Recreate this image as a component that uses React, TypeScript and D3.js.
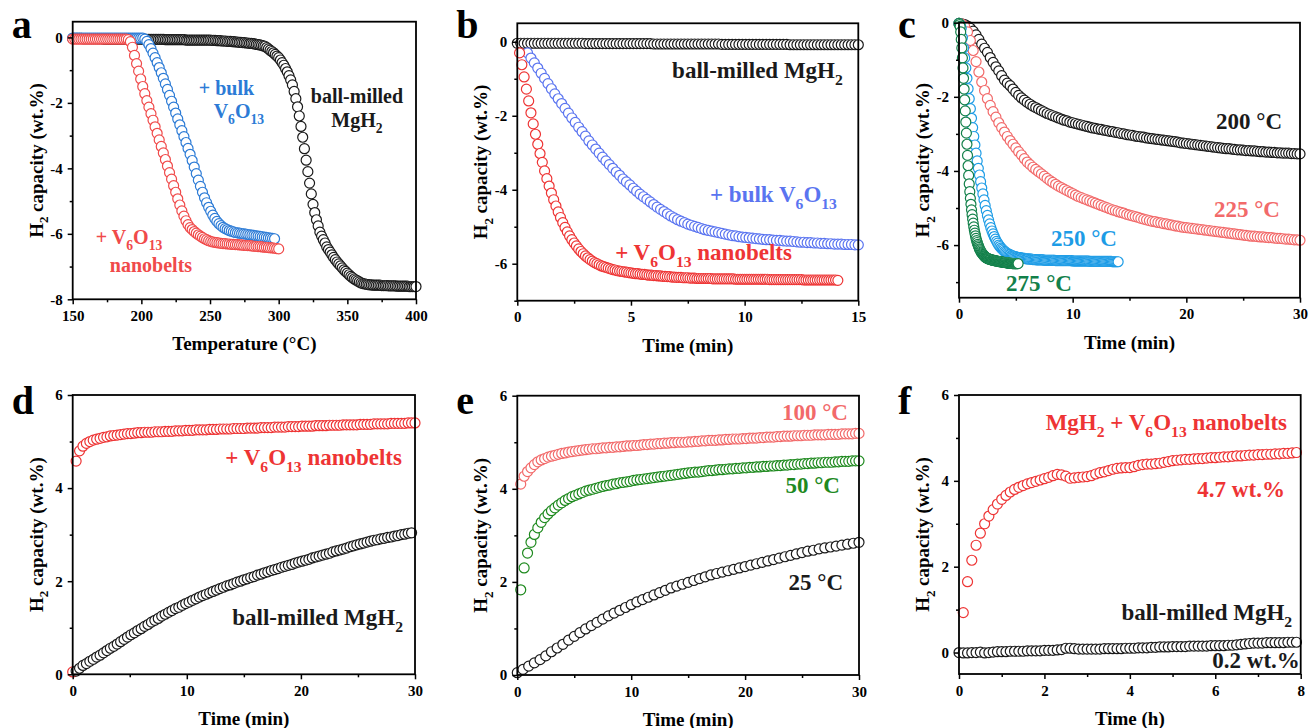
import React, { useEffect, useRef } from 'react';
import * as d3 from 'd3';

const FONT = '"Liberation Serif", "Times New Roman", serif';

// ---------- panel a : temperature programmed desorption (x = 150 + i * step) ----------
const aMgH2 = [
  -0.03, -0.03, -0.03, -0.03, -0.03, -0.03, -0.04, -0.04, -0.04, -0.04, -0.04, -0.04, -0.04, -0.04, -0.04, -0.04,
  -0.04, -0.04, -0.05, -0.05, -0.05, -0.05, -0.05, -0.05, -0.05, -0.05, -0.05, -0.05, -0.05, -0.05, -0.05, -0.05,
  -0.05, -0.05, -0.05, -0.05, -0.05, -0.05, -0.05, -0.05, -0.05, -0.05, -0.06, -0.06, -0.06, -0.06, -0.06, -0.06,
  -0.06, -0.06, -0.06, -0.06, -0.06, -0.06, -0.07, -0.07, -0.07, -0.07, -0.07, -0.07, -0.07, -0.07, -0.07, -0.07,
  -0.07, -0.07, -0.08, -0.08, -0.08, -0.08, -0.08, -0.08, -0.08, -0.08, -0.08, -0.08, -0.08, -0.08, -0.08, -0.08,
  -0.08, -0.09, -0.09, -0.09, -0.1, -0.1, -0.1, -0.11, -0.11, -0.11, -0.12, -0.12, -0.12, -0.13, -0.13, -0.14,
  -0.14, -0.15, -0.15, -0.16, -0.16, -0.17, -0.17, -0.18, -0.18, -0.19, -0.2, -0.21, -0.22, -0.23, -0.24, -0.26,
  -0.27, -0.31, -0.35, -0.39, -0.43, -0.47, -0.52, -0.57, -0.62, -0.69, -0.77, -0.85, -0.95, -1.05, -1.17, -1.3,
  -1.45, -1.65, -1.87, -2.12, -2.4, -2.72, -3.05, -3.4, -3.75, -4.1, -4.45, -4.78, -5.1, -5.35, -5.57, -5.76,
  -5.95, -6.07, -6.18, -6.28, -6.4, -6.48, -6.56, -6.64, -6.72, -6.79, -6.86, -6.92, -6.98, -7.04, -7.1, -7.15,
  -7.2, -7.25, -7.3, -7.34, -7.38, -7.41, -7.44, -7.47, -7.5, -7.52, -7.53, -7.54, -7.55, -7.56, -7.56, -7.57,
  -7.57, -7.57, -7.57, -7.57, -7.58, -7.58, -7.58, -7.58, -7.59, -7.59, -7.59, -7.59, -7.59, -7.6, -7.6, -7.6,
  -7.6, -7.6, -7.6, -7.6, -7.61, -7.61, -7.61, -7.61, -7.61,
];
const aBulk = [
  -0.02, -0.02, -0.02, -0.02, -0.02, -0.02, -0.02, -0.02, -0.02, -0.02, -0.02, -0.02, -0.02, -0.02, -0.02, -0.02,
  -0.02, -0.02, -0.02, -0.02, -0.02, -0.02, -0.02, -0.02, -0.02, -0.02, -0.02, -0.02, -0.02, -0.02, -0.02, -0.02,
  -0.02, -0.02, -0.02,
  -0.05, -0.12, -0.22, -0.34, -0.48, -0.62, -0.77, -0.92, -1.08, -1.25, -1.42, -1.59, -1.77, -1.95, -2.13, -2.31,
  -2.49, -2.67, -2.85, -3.03, -3.21, -3.39, -3.57, -3.76, -3.96, -4.16, -4.36, -4.55, -4.73, -4.9, -5.05, -5.19,
  -5.31, -5.43, -5.53, -5.62, -5.69, -5.75, -5.8, -5.84, -5.87, -5.9, -5.92, -5.94, -5.96, -5.97,
  -5.98, -5.99, -6.0, -6.01, -6.02, -6.03, -6.04, -6.05, -6.06, -6.07, -6.08, -6.09, -6.1, -6.11, -6.12, -6.13,
  -6.14, -6.15,
];
const aNano = [
  -0.05, -0.05, -0.05, -0.05, -0.05, -0.05, -0.05, -0.05, -0.05, -0.05, -0.05, -0.05, -0.05, -0.05, -0.05, -0.05,
  -0.05, -0.05, -0.05, -0.05, -0.05, -0.05, -0.05, -0.05, -0.05, -0.05, -0.05, -0.07,
  -0.13, -0.3, -0.55, -0.8, -1.03, -1.27, -1.5, -1.72, -1.93, -2.13, -2.33, -2.53, -2.73, -2.93, -3.13, -3.33,
  -3.53, -3.73, -3.93, -4.13, -4.33, -4.53, -4.73, -4.93, -5.12, -5.3, -5.46, -5.6, -5.72, -5.81,
  -5.87, -5.93, -5.98, -6.03, -6.07, -6.11, -6.15, -6.18, -6.21, -6.23, -6.25, -6.26, -6.27, -6.28,
  -6.29, -6.3, -6.3, -6.31, -6.31, -6.32, -6.32, -6.33, -6.33, -6.34, -6.34, -6.35, -6.35, -6.36, -6.36, -6.37,
  -6.38, -6.38, -6.39, -6.39, -6.4, -6.41, -6.41, -6.42, -6.43, -6.43, -6.44, -6.45, -6.46,
];

// ---------- panel b : isothermal dehydrogenation, 300 °C (min) ----------
const bMgH2 = [
  -0.04, -0.04, -0.04, -0.04, -0.04, -0.04, -0.04, -0.04, -0.04, -0.04, -0.04, -0.04, -0.04, -0.04, -0.04, -0.04,
  -0.04, -0.04, -0.04, -0.04, -0.05, -0.05, -0.05, -0.05, -0.05, -0.05, -0.05, -0.05, -0.05, -0.05, -0.05, -0.05,
  -0.05, -0.05, -0.05, -0.05, -0.05, -0.05, -0.05, -0.05, -0.06, -0.06, -0.06, -0.06, -0.06, -0.06, -0.06, -0.06,
  -0.06, -0.06, -0.06, -0.06, -0.06, -0.06, -0.06, -0.06, -0.06, -0.06, -0.06, -0.06, -0.07, -0.07, -0.07, -0.07,
  -0.07, -0.07, -0.07, -0.07, -0.07, -0.07, -0.07, -0.07, -0.07, -0.07, -0.07, -0.07, -0.07, -0.07, -0.07, -0.07,
  -0.08, -0.08, -0.08, -0.08, -0.08, -0.08, -0.08, -0.08, -0.08, -0.08, -0.08, -0.08, -0.08, -0.08, -0.08, -0.08,
  -0.08, -0.08, -0.08, -0.08, -0.08,
];
const bBulk = [
  -0.3, -0.44, -0.57, -0.71, -0.85, -0.99, -1.13, -1.27, -1.41, -1.54,
  -1.67, -1.8, -1.93, -2.06, -2.18, -2.31, -2.43, -2.55, -2.68, -2.79,
  -2.9, -3.01, -3.12, -3.22, -3.32, -3.42, -3.52, -3.61, -3.71, -3.79,
  -3.87, -3.96, -4.04, -4.12, -4.19, -4.26, -4.33, -4.4, -4.47, -4.53,
  -4.59, -4.65, -4.71, -4.76, -4.81, -4.85, -4.89, -4.93, -4.96, -4.99,
  -5.02, -5.05, -5.08, -5.1, -5.12, -5.14, -5.16, -5.18, -5.2, -5.22,
  -5.24, -5.25, -5.27, -5.28, -5.29, -5.3, -5.31, -5.32, -5.33, -5.34,
  -5.35, -5.35, -5.36, -5.37, -5.37, -5.38, -5.39, -5.39, -5.4, -5.41,
  -5.42, -5.42, -5.43, -5.43, -5.44, -5.44, -5.45, -5.45, -5.46, -5.46,
  -5.47, -5.47, -5.47, -5.48, -5.48, -5.48, -5.49, -5.49,
];
const bNano = [
  -0.3, -0.62, -0.95, -1.28, -1.6, -1.92, -2.22, -2.5, -2.77, -3.02,
  -3.26, -3.49, -3.7, -3.9, -4.09, -4.27, -4.44, -4.6, -4.75, -4.89,
  -5.02, -5.14, -5.25, -5.35, -5.44, -5.52, -5.6, -5.67, -5.73, -5.79,
  -5.84, -5.89, -5.93, -5.97, -6.0, -6.03, -6.06, -6.08, -6.1, -6.12,
  -6.14, -6.16, -6.17, -6.19, -6.2, -6.21, -6.22, -6.23, -6.24, -6.25,
  -6.26, -6.27, -6.27, -6.28, -6.29, -6.29, -6.3, -6.31, -6.31, -6.32,
  -6.32, -6.33, -6.33, -6.34, -6.34, -6.35, -6.35, -6.36, -6.36, -6.37,
  -6.37, -6.37, -6.38, -6.38, -6.38, -6.39, -6.39, -6.39, -6.4, -6.4,
  -6.4, -6.4, -6.4, -6.4, -6.4, -6.41, -6.41, -6.41, -6.41, -6.41,
  -6.41, -6.41, -6.41, -6.41, -6.41, -6.42, -6.42, -6.42, -6.42, -6.42,
  -6.42, -6.42, -6.42, -6.42, -6.42, -6.42, -6.42, -6.42, -6.42, -6.42,
  -6.43, -6.43, -6.43, -6.43, -6.43, -6.43, -6.43, -6.43, -6.43, -6.43,
  -6.43, -6.43, -6.43, -6.43, -6.43, -6.44, -6.44, -6.44, -6.44, -6.44,
  -6.44, -6.44, -6.44, -6.44, -6.44, -6.44, -6.44, -6.44, -6.44, -6.44,
  -6.45,
];

// ---------- panel c : nanobelt sample at four temperatures (min) ----------
const c200 = [
  -0.02, -0.03, -0.05, -0.09, -0.15, -0.23, -0.33, -0.45, -0.58, -0.69, -0.8, -0.94,
  -1.07, -1.19, -1.3, -1.43, -1.55, -1.63, -1.7, -1.79, -1.88, -1.96, -2.03, -2.09,
  -2.15, -2.2, -2.25, -2.29, -2.33, -2.37, -2.41, -2.45, -2.48, -2.51, -2.54, -2.57,
  -2.6, -2.63, -2.65, -2.68, -2.7, -2.72, -2.74, -2.76, -2.78, -2.8, -2.82, -2.84,
  -2.85, -2.87, -2.88, -2.9, -2.91, -2.93, -2.94, -2.96, -2.97, -2.99, -3.0, -3.02,
  -3.03, -3.04, -3.06, -3.07, -3.08, -3.09, -3.11, -3.12, -3.13, -3.14, -3.15, -3.16,
  -3.17, -3.18, -3.19, -3.2, -3.21, -3.22, -3.24, -3.25, -3.26, -3.27, -3.28, -3.29,
  -3.3, -3.31, -3.32, -3.33, -3.34, -3.35, -3.36, -3.37, -3.38, -3.39, -3.4, -3.4,
  -3.41, -3.42, -3.43, -3.43, -3.44, -3.45, -3.45, -3.46, -3.46, -3.47, -3.48, -3.48,
  -3.49, -3.49, -3.5, -3.5, -3.51, -3.51, -3.52, -3.52, -3.52, -3.53, -3.53, -3.54,
  -3.54,
];
const c225 = [
  -0.02, -0.04, -0.1, -0.25, -0.48, -0.75, -1.05, -1.33, -1.6, -1.83, -2.05, -2.23,
  -2.4, -2.55, -2.7, -2.83, -2.95, -3.07, -3.18, -3.28, -3.38, -3.48, -3.57, -3.67,
  -3.76, -3.83, -3.9, -3.96, -4.02, -4.08, -4.14, -4.2, -4.26, -4.31, -4.36, -4.41,
  -4.45, -4.49, -4.53, -4.57, -4.61, -4.65, -4.69, -4.72, -4.75, -4.78, -4.81, -4.84,
  -4.87, -4.9, -4.93, -4.96, -4.99, -5.02, -5.05, -5.07, -5.1, -5.12, -5.14, -5.17,
  -5.19, -5.21, -5.23, -5.25, -5.28, -5.3, -5.32, -5.34, -5.36, -5.37, -5.39, -5.4,
  -5.42, -5.43, -5.45, -5.46, -5.48, -5.49, -5.51, -5.52, -5.53, -5.54, -5.55, -5.56,
  -5.57, -5.58, -5.59, -5.6, -5.61, -5.62, -5.63, -5.64, -5.65, -5.66, -5.67, -5.68,
  -5.69, -5.7, -5.71, -5.72, -5.73, -5.74, -5.75, -5.76, -5.76, -5.77, -5.78, -5.78,
  -5.79, -5.8, -5.8, -5.81, -5.82, -5.82, -5.83, -5.84, -5.84, -5.85, -5.86, -5.86,
  -5.87,
];
const c250 = [
  -0.02, -0.05, -0.15, -0.4, -0.68, -0.95, -1.22, -1.5, -1.78, -2.05,
  -2.32, -2.58, -2.83, -3.07, -3.3, -3.52, -3.73, -3.93, -4.11, -4.29,
  -4.46, -4.62, -4.78, -4.93, -5.07, -5.2, -5.32, -5.43, -5.53, -5.62,
  -5.7, -5.77, -5.84, -5.9, -5.95, -6.0, -6.04, -6.08, -6.11, -6.14,
  -6.17, -6.19, -6.21, -6.23, -6.25, -6.26, -6.28, -6.29, -6.3, -6.31,
  -6.32, -6.33, -6.33, -6.34, -6.34, -6.35, -6.35, -6.36, -6.36, -6.37,
  -6.37, -6.37, -6.38, -6.38, -6.38, -6.39, -6.39, -6.39, -6.4, -6.4,
  -6.4, -6.4, -6.4, -6.4, -6.4, -6.41, -6.41, -6.41, -6.41, -6.41,
  -6.41, -6.41, -6.41, -6.41, -6.41, -6.42, -6.42, -6.42, -6.42, -6.42,
  -6.42, -6.42, -6.42, -6.42, -6.42, -6.42, -6.42, -6.42, -6.42, -6.42,
  -6.43, -6.43, -6.43, -6.43, -6.43, -6.43, -6.43, -6.43, -6.43, -6.43,
  -6.43, -6.43, -6.43, -6.43, -6.43, -6.44, -6.44, -6.44, -6.44, -6.44,
  -6.44, -6.44, -6.44, -6.44, -6.44, -6.44, -6.44, -6.44, -6.44, -6.44,
  -6.44, -6.44, -6.44, -6.44, -6.44, -6.45, -6.45, -6.45, -6.45, -6.45,
  -6.45,
];
const c275 = [
  -0.02, -0.05, -0.1, -0.25, -0.45, -0.68, -0.95, -1.22, -1.5, -1.79,
  -2.08, -2.38, -2.68, -2.98, -3.28, -3.58, -3.86, -4.12, -4.35, -4.56,
  -4.74, -4.9, -5.05, -5.18, -5.3, -5.41, -5.51, -5.6, -5.68, -5.75,
  -5.82, -5.88, -5.93, -5.98, -6.02, -6.06, -6.1, -6.13, -6.16, -6.19,
  -6.21, -6.23, -6.25, -6.27, -6.29, -6.3, -6.32, -6.33, -6.34, -6.35,
  -6.36, -6.37, -6.37, -6.38, -6.38, -6.39, -6.39, -6.4, -6.4, -6.41,
  -6.41, -6.41, -6.42, -6.42, -6.42, -6.43, -6.43, -6.43, -6.44, -6.44,
  -6.44, -6.45, -6.45, -6.45, -6.45, -6.46, -6.46, -6.46, -6.46, -6.47,
  -6.47, -6.47, -6.47, -6.48, -6.48, -6.48, -6.48, -6.48, -6.49, -6.49,
  -6.49, -6.49, -6.49, -6.49, -6.5, -6.5, -6.5, -6.5, -6.5, -6.5,
  -6.5, -6.5, -6.5, -6.5, -6.5,
];

// ---------- panel d : rehydrogenation at 100 °C (min) ----------
const dNano = [
  0.05, 4.58, 4.8, 4.9, 4.96, 5.0, 5.03, 5.05, 5.07, 5.09, 5.1, 5.12, 5.13, 5.14, 5.15, 5.16, 5.17, 5.17, 5.18, 5.19,
  5.19, 5.2, 5.2, 5.2, 5.21, 5.21, 5.21, 5.22, 5.22, 5.22, 5.23, 5.23, 5.23, 5.24, 5.24, 5.24, 5.25, 5.25, 5.25, 5.25,
  5.26, 5.26, 5.26, 5.27, 5.27, 5.27, 5.27, 5.28, 5.28, 5.28, 5.28, 5.29, 5.29, 5.29, 5.29, 5.3, 5.3, 5.3, 5.3, 5.31,
  5.31, 5.31, 5.31, 5.32, 5.32, 5.32, 5.32, 5.33, 5.33, 5.33, 5.33, 5.34, 5.34, 5.34, 5.34, 5.35, 5.35, 5.35, 5.35, 5.36,
  5.36, 5.36, 5.36, 5.36, 5.37, 5.37, 5.37, 5.37, 5.38, 5.38, 5.38, 5.38, 5.38, 5.39, 5.39, 5.39, 5.39, 5.39, 5.4, 5.4,
  5.4,
];
const dMgH2 = [
  0.07, 0.13, 0.19, 0.23, 0.28, 0.32, 0.37, 0.41, 0.46, 0.51, 0.56, 0.6, 0.65, 0.7, 0.75, 0.8, 0.85, 0.89, 0.94, 0.98,
  1.03, 1.07, 1.12, 1.16, 1.2, 1.25, 1.29, 1.33, 1.37, 1.41, 1.44, 1.48, 1.52, 1.55, 1.59, 1.62, 1.66, 1.69, 1.72, 1.75,
  1.78, 1.81, 1.84, 1.87, 1.9, 1.92, 1.95, 1.98, 2.0, 2.03, 2.05, 2.08, 2.1, 2.13, 2.15, 2.18, 2.2, 2.23, 2.25, 2.27,
  2.3, 2.32, 2.34, 2.36, 2.39, 2.41, 2.43, 2.45, 2.47, 2.5, 2.52, 2.54, 2.56, 2.58, 2.6, 2.63, 2.65, 2.67, 2.69, 2.71,
  2.74, 2.76, 2.78, 2.8, 2.82, 2.84, 2.86, 2.88, 2.89, 2.91, 2.92, 2.94, 2.95, 2.97, 2.98, 3.0, 3.01, 3.03, 3.04,
];

// ---------- panel e : nanobelt sample at three temperatures (min) ----------
const e100 = [
  4.1, 4.27, 4.37, 4.45, 4.52, 4.58, 4.62, 4.65, 4.68, 4.7, 4.72, 4.74, 4.76, 4.77, 4.79, 4.8, 4.81, 4.82, 4.83, 4.84,
  4.85, 4.86, 4.86, 4.87, 4.88, 4.88, 4.89, 4.89, 4.9, 4.9, 4.91, 4.92, 4.92, 4.93, 4.93, 4.94, 4.95, 4.95, 4.96, 4.96,
  4.97, 4.97, 4.98, 4.98, 4.99, 4.99, 5.0, 5.0, 5.0, 5.01, 5.01, 5.02, 5.02, 5.03, 5.03, 5.04, 5.04, 5.04, 5.05, 5.05,
  5.06, 5.06, 5.07, 5.07, 5.07, 5.08, 5.08, 5.09, 5.09, 5.09, 5.1, 5.1, 5.11, 5.11, 5.11, 5.12, 5.12, 5.13, 5.13, 5.13,
  5.14, 5.14, 5.14, 5.15, 5.15, 5.15, 5.16, 5.16, 5.16, 5.16, 5.17, 5.17, 5.17, 5.17, 5.18, 5.18, 5.18, 5.18, 5.19, 5.19,
];
const e50 = [
  1.83, 2.3, 2.62, 2.85, 3.02, 3.16, 3.28, 3.38, 3.46, 3.53, 3.59, 3.65, 3.7, 3.75, 3.79, 3.83, 3.86, 3.89, 3.92, 3.95,
  3.97, 3.99, 4.01, 4.03, 4.05, 4.07, 4.08, 4.1, 4.11, 4.13, 4.14, 4.15, 4.16, 4.18, 4.19, 4.2, 4.21, 4.22, 4.23, 4.24,
  4.25, 4.26, 4.27, 4.28, 4.29, 4.3, 4.31, 4.32, 4.33, 4.34, 4.35, 4.36, 4.36, 4.37, 4.38, 4.39, 4.39, 4.4, 4.41, 4.41,
  4.42, 4.43, 4.43, 4.44, 4.44, 4.45, 4.45, 4.46, 4.46, 4.47, 4.47, 4.48, 4.48, 4.49, 4.49, 4.5, 4.5, 4.51, 4.51, 4.52,
  4.52, 4.53, 4.53, 4.54, 4.54, 4.55, 4.55, 4.56, 4.56, 4.57, 4.57, 4.57, 4.58, 4.58, 4.59, 4.59, 4.59, 4.6, 4.6, 4.6,
];
const e25 = [
  0.05, 0.12, 0.19, 0.26, 0.33, 0.41, 0.5, 0.58, 0.66, 0.75, 0.83, 0.91, 0.99, 1.06, 1.13, 1.2, 1.27, 1.33, 1.39, 1.45,
  1.51, 1.57, 1.62, 1.67, 1.72, 1.77, 1.82, 1.87, 1.91, 1.95, 1.99, 2.03, 2.07, 2.11, 2.15, 2.18, 2.21, 2.24, 2.27, 2.3,
  2.33, 2.36, 2.39, 2.42, 2.45, 2.48, 2.51, 2.54, 2.57, 2.6, 2.63, 2.66, 2.68, 2.71, 2.73, 2.75, 2.77, 2.79, 2.81, 2.83,
  2.85,
];

// ---------- panel f : room temperature absorption (h) ----------
const fNano = [
  0.93, 1.65, 2.15, 2.5, 2.78, 3.0, 3.18, 3.33, 3.46, 3.57, 3.66, 3.74, 3.8, 3.85, 3.89, 3.93, 3.96, 3.99, 4.02, 4.05,
  4.08, 4.12, 4.15, 4.14, 4.11, 4.06, 4.07, 4.08, 4.09, 4.1, 4.12, 4.16, 4.19, 4.21, 4.24, 4.27, 4.29, 4.3, 4.31, 4.31,
  4.33, 4.36, 4.38, 4.39, 4.39, 4.4, 4.41, 4.43, 4.45, 4.47, 4.48, 4.49, 4.5, 4.5, 4.51, 4.52, 4.52, 4.53, 4.54, 4.54,
  4.55, 4.56, 4.56, 4.57, 4.58, 4.58, 4.59, 4.6, 4.6, 4.61, 4.61, 4.62, 4.62, 4.63, 4.63, 4.64, 4.64, 4.65, 4.66,
];
const fMgH2 = [
  0.0, -0.01, -0.01, 0.0, 0.0, 0.01, -0.01, 0.0, 0.01, 0.02, 0.02, 0.02, 0.03, 0.03, 0.03, 0.03, 0.04, 0.04, 0.04, 0.04,
  0.05, 0.05, 0.05, 0.06, 0.07, 0.1, 0.1, 0.09, 0.08, 0.08, 0.08, 0.08, 0.08, 0.08, 0.09, 0.09, 0.09, 0.09, 0.09, 0.1,
  0.1, 0.1, 0.11, 0.11, 0.11, 0.12, 0.12, 0.13, 0.13, 0.13, 0.14, 0.14, 0.14, 0.14, 0.15, 0.15, 0.15, 0.15, 0.15, 0.16,
  0.16, 0.16, 0.16, 0.17, 0.17, 0.18, 0.19, 0.2, 0.21, 0.22, 0.22, 0.22, 0.23, 0.23, 0.23, 0.23, 0.23, 0.24, 0.24, 0.24,
];

// ---------- tick values ----------
const aXTicks = [150, 200, 250, 300, 350, 400];
const aXMinor = [175, 225, 275, 325, 375];
const negYTicks = [-8, -6, -4, -2, 0];
const negYMinor = [-7, -5, -3, -1];
const bXTicks = [0, 5, 10, 15];
const bXMinor = [2.5, 7.5, 12.5];
const minXTicks = [0, 10, 20, 30];
const minXMinor = [5, 15, 25];
const posYTicks = [0, 2, 4, 6];
const posYMinor = [1, 3, 5];
const hXTicks = [0, 2, 4, 6, 8];
const hXMinor = [1, 3, 5, 7];

const BLACK = '#1a1a1a';
const RED = '#ee3434';
const RED_A = '#f04a4a';
const PINK = '#f26a6a';
const BLUE_A = '#2c7bd6';
const BLUE_B = '#5a74f0';
const SKY = '#1d9ce6';
const GREEN_C = '#12804a';
const GREEN_E = '#1f8a1f';

const panels = [
  {
    letter: 'a', box: [72.7, 21.7, 416, 299.3], xDomain: [150, 400], yDomain: [-8, 0.48],
    xTicks: aXTicks, xMinor: aXMinor, yTicks: negYTicks, yMinor: negYMinor, xTitle: 'Temperature (°C)',
    series: [
      { y: aMgH2, x0: 150, dx: 1.25, color: BLACK },
      { y: aBulk, x0: 150, dx: 1.5, color: BLUE_A },
      { y: aNano, x0: 150, dx: 1.5, color: RED_A },
    ],
    noteSize: 20,
    notes: [
      { text: '+ bulk', x: 262, y: -1.76, color: BLUE_A, anchor: 'middle' },
      { text: 'V_6O_13', x: 271, y: -2.46, color: BLUE_A, anchor: 'middle' },
      { text: 'ball-milled', x: 357, y: -2.01, color: BLACK, anchor: 'middle' },
      { text: 'MgH_2', x: 357, y: -2.74, color: BLACK, anchor: 'middle' },
      { text: '+ V_6O_13', x: 191, y: -6.31, color: RED_A, anchor: 'middle' },
      { text: 'nanobelts', x: 207, y: -7.17, color: RED_A, anchor: 'middle' },
    ],
  },
  {
    letter: 'b', box: [517.3, 23.3, 858.3, 300.7], xDomain: [0, 15], yDomain: [-7, 0.5],
    xTicks: bXTicks, xMinor: bXMinor, yTicks: [-6, -4, -2, 0], yMinor: negYMinor, xTitle: 'Time (min)',
    series: [
      { y: bMgH2, x0: 0, dx: 0.15, color: BLACK },
      { y: bBulk, x0: 0.45, dx: 0.15, color: BLUE_B },
      { y: bNano, x0: 0.1, dx: 0.1, color: RED },
    ],
    noteSize: 23,
    notes: [
      { text: 'ball-milled MgH_2', x: 14.32, y: -0.98, color: BLACK },
      { text: '+ bulk V_6O_13', x: 14.06, y: -4.33, color: BLUE_B },
      { text: '+ V_6O_13 nanobelts', x: 12.08, y: -5.9, color: RED },
    ],
  },
  {
    letter: 'c', box: [959, 22.7, 1300, 297.7], xDomain: [0, 30], yDomain: [-7.42, 0],
    xTicks: minXTicks, xMinor: minXMinor, yTicks: [-6, -4, -2, 0], yMinor: negYMinor, xTitle: 'Time (min)',
    series: [
      { y: c200, x0: 0, dx: 0.25, color: BLACK },
      { y: c225, x0: 0, dx: 0.25, color: PINK },
      { y: c250, x0: 0, dx: 0.1, color: SKY },
      { y: c275, x0: 0, dx: 0.05, color: GREEN_C },
    ],
    noteSize: 23,
    notes: [
      { text: '200 °C', x: 28.42, y: -2.87, color: BLACK },
      { text: '225 °C', x: 28.24, y: -5.24, color: PINK },
      { text: '250 °C', x: 13.9, y: -6.03, color: SKY },
      { text: '275 °C', x: 9.94, y: -7.24, color: GREEN_C },
    ],
  },
  {
    letter: 'd', box: [72.7, 395, 415, 674.3], xDomain: [0, 30], yDomain: [0, 6],
    xTicks: minXTicks, xMinor: minXMinor, yTicks: posYTicks, yMinor: posYMinor, xTitle: 'Time (min)',
    series: [
      { y: dNano, x0: 0, dx: 0.3, color: RED },
      { y: dMgH2, x0: 0.3, dx: 0.3, color: BLACK },
    ],
    noteSize: 23,
    notes: [
      { text: '+ V_6O_13 nanobelts', x: 28.86, y: 4.5, color: RED },
      { text: 'ball-milled MgH_2', x: 28.95, y: 1.06, color: BLACK },
    ],
  },
  {
    letter: 'e', box: [517.3, 395.7, 859, 675], xDomain: [0, 30], yDomain: [0, 6],
    xTicks: minXTicks, xMinor: minXMinor, yTicks: posYTicks, yMinor: posYMinor, xTitle: 'Time (min)',
    series: [
      { y: e25, x0: 0, dx: 0.5, color: BLACK },
      { y: e50, x0: 0.3, dx: 0.3, color: GREEN_E },
      { y: e100, x0: 0.3, dx: 0.3, color: PINK },
    ],
    noteSize: 23,
    notes: [
      { text: '100 °C', x: 29.03, y: 5.48, color: PINK },
      { text: '50 °C', x: 28.33, y: 3.91, color: GREEN_E },
      { text: '25 °C', x: 28.6, y: 1.83, color: BLACK },
    ],
  },
  {
    letter: 'f', box: [959, 395, 1300.7, 674], xDomain: [0, 8], yDomain: [-0.5, 6],
    xTicks: hXTicks, xMinor: hXMinor, yTicks: posYTicks, yMinor: posYMinor, xTitle: 'Time (h)',
    series: [
      { y: fMgH2, x0: 0, dx: 0.1, color: BLACK },
      { y: fNano, x0: 0.1, dx: 0.1, color: RED },
    ],
    noteSize: 23,
    notes: [
      { text: 'MgH_2 + V_6O_13 nanobelts', x: 7.68, y: 5.18, color: RED },
      { text: '4.7 wt.%', x: 7.63, y: 3.62, color: RED },
      { text: 'ball-milled MgH_2', x: 7.8, y: 0.76, color: BLACK },
      { text: '0.2 wt.%', x: 7.98, y: -0.36, color: BLACK },
    ],
  },
];

// text with "_n" subscripts, e.g. "V_6O_13"
function richText(sel, str, size) {
  const parts = str.split(/_(\d+)/);
  const shift = size * 0.3;
  let down = false;
  parts.forEach((s, i) => {
    if (!s) return;
    const sub = i % 2 === 1;
    const ts = sel.append('tspan').text(s);
    if (sub) {
      ts.attr('font-size', size * 0.68);
      if (!down) ts.attr('dy', shift);
      down = true;
    } else if (down) {
      ts.attr('dy', -shift);
      down = false;
    }
  });
}

const App = () => {
  const ref = useRef(null);

  useEffect(() => {
    const svg = d3.select(ref.current);
    svg.selectAll('*').remove();

    panels.forEach((p) => {
      const [l, t, r, b] = p.box;
      const x = d3.scaleLinear().domain(p.xDomain).range([l, r]);
      const y = d3.scaleLinear().domain(p.yDomain).range([b, t]);
      const g = svg.append('g');

      p.series.forEach((s) => {
        g.append('g')
          .selectAll('circle')
          .data(s.y)
          .join('circle')
          .attr('cx', (_, i) => x(s.x0 + i * s.dx))
          .attr('cy', (d) => y(d))
          .attr('r', 5)
          .attr('fill', '#fff')
          .attr('stroke', s.color)
          .attr('stroke-width', 1.2);
      });

      g.append('rect')
        .attr('x', l).attr('y', t)
        .attr('width', r - l).attr('height', b - t)
        .attr('fill', 'none').attr('stroke', '#000').attr('stroke-width', 1.8);

      const styleAxis = (ax) => {
        ax.select('.domain').remove();
        ax.selectAll('line').attr('stroke', '#000').attr('stroke-width', 1.5);
        ax.attr('font-family', FONT).attr('font-size', 15).attr('font-weight', 'bold');
        ax.selectAll('text').attr('fill', '#000');
      };

      g.append('g').attr('transform', `translate(0,${b})`)
        .call(d3.axisBottom(x).tickValues(p.xTicks).tickSize(5).tickPadding(6).tickFormat((d) => String(d)))
        .call(styleAxis);
      g.append('g').attr('transform', `translate(0,${b})`)
        .call(d3.axisBottom(x).tickValues(p.xMinor).tickSize(3).tickFormat(() => ''))
        .call(styleAxis);
      g.append('g').attr('transform', `translate(${l},0)`)
        .call(d3.axisLeft(y).tickValues(p.yTicks).tickSize(5).tickPadding(5).tickFormat((d) => String(d)))
        .call(styleAxis);
      g.append('g').attr('transform', `translate(${l},0)`)
        .call(d3.axisLeft(y).tickValues(p.yMinor).tickSize(3).tickFormat(() => ''))
        .call(styleAxis);

      // axis titles
      g.append('text')
        .attr('x', (l + r) / 2).attr('y', b + 51)
        .attr('text-anchor', 'middle')
        .attr('font-family', FONT).attr('font-weight', 'bold').attr('font-size', 19)
        .text(p.xTitle);
      const yt = g.append('text')
        .attr('transform', `translate(${l - 30},${(t + b) / 2}) rotate(-90)`)
        .attr('text-anchor', 'middle')
        .attr('font-family', FONT).attr('font-weight', 'bold').attr('font-size', 19);
      richText(yt, 'H_2 capacity (wt.%)', 19);

      // panel letter
      g.append('text')
        .attr('x', l - 61).attr('y', t < 200 ? 38 : 414)
        .attr('font-family', FONT).attr('font-weight', 'bold').attr('font-size', 40)
        .text(p.letter);

      // annotations
      p.notes.forEach((n) => {
        const tx = g.append('text')
          .attr('x', x(n.x)).attr('y', y(n.y))
          .attr('text-anchor', n.anchor || 'end')
          .attr('font-family', FONT).attr('font-weight', 'bold')
          .attr('font-size', p.noteSize).attr('fill', n.color);
        richText(tx, n.text, p.noteSize);
      });
    });
  }, []);

  return (
    <svg
      ref={ref}
      width={1309}
      height={728}
      style={{ position: 'absolute', left: 0, top: 0, background: '#fff' }}
    />
  );
};

export default App;
